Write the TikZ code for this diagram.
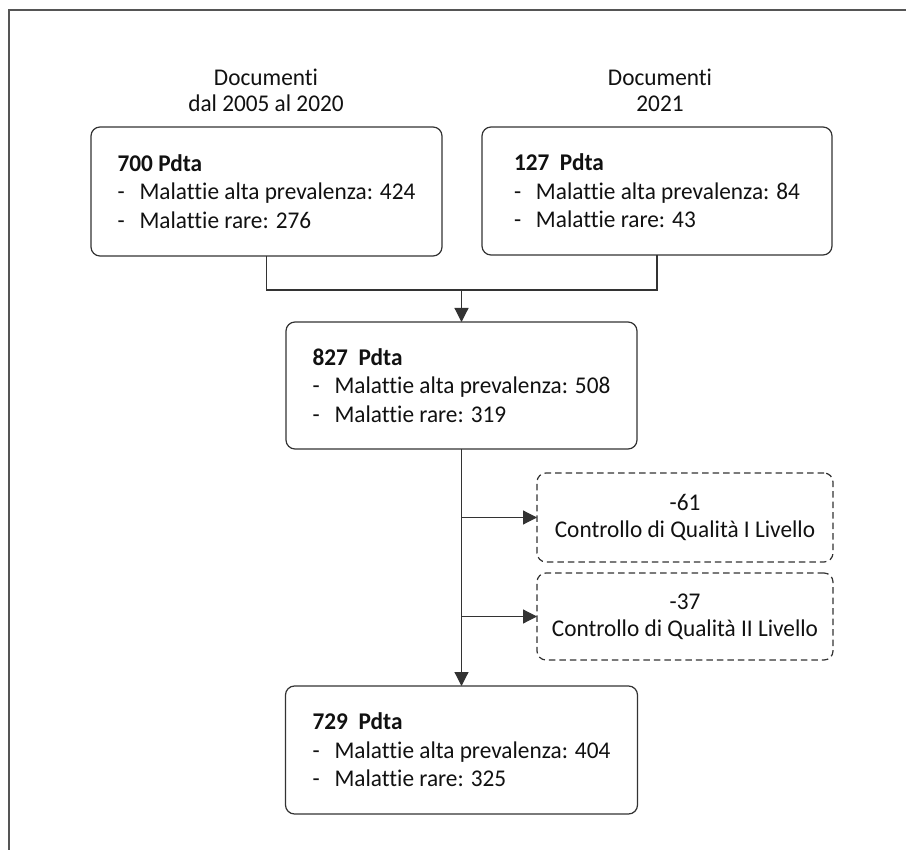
\documentclass[tikz,border=0pt]{standalone}
\usepackage{fontspec}
\setmainfont{Carlito}[Ligatures=NoCommon, FakeStretch=0.97]
\usetikzlibrary{arrows.meta}
\definecolor{ln}{HTML}{333333}
\definecolor{tx}{HTML}{111111}
\definecolor{fr}{HTML}{555555}
\newcommand{\itm}[1]{\makebox[22pt][l]{-}#1}
\begin{document}
\begin{tikzpicture}[x=1pt,y=-1pt,
  every node/.style={text=tx, inner sep=0pt, outer sep=0pt},
  solidbox/.style={draw=ln, line width=1.2pt, rounded corners=9pt,
    align=left, font=\fontsize{24}{28.5}\selectfont},
  dashbox/.style={draw=ln, line width=1.2pt, rounded corners=9pt,
    dash pattern=on 6.5pt off 4pt, align=center,
    font=\fontsize{24}{27}\selectfont, minimum width=296pt},
  toplabel/.style={align=center, font=\fontsize{24}{26}\selectfont},
  conn/.style={draw=ln, line width=1.2pt},
  arr/.style={conn, -{Triangle[length=14pt,width=14pt]}}
]
\useasboundingbox (0,0) rectangle (906,850);
\draw[fr, line width=1.2pt] (906,10) -- coordinate (fc) (9,10) -- (9,850);

\node[toplabel] (L1) at (266,90) {Documenti\\dal 2005 al 2020};
\node[toplabel] (L2) at (660,90) {Documenti\\2021};

\node[solidbox, minimum width=351pt, minimum height=129pt] (A) at (266.5,191.5)
  {\textbf{700 Pdta}\\\itm{Malattie alta prevalenza: 424}\\\itm{Malattie rare: 276}};
\node[solidbox, minimum width=350pt, minimum height=128pt] (B) at (657,191)
  {\textbf{127\ \ Pdta}\\\itm{Malattie alta prevalenza: 84}\\\itm{Malattie rare: 43}};
\node[solidbox, minimum width=351pt, minimum height=127pt] (C) at (461.5,385.5)
  {\textbf{827\ \ Pdta}\\\itm{Malattie alta prevalenza: 508}\\\itm{Malattie rare: 319}};
\node[solidbox, minimum width=352pt, minimum height=128pt] (D) at (461.5,750)
  {\textbf{729\ \ Pdta}\\\itm{Malattie alta prevalenza: 404}\\\itm{Malattie rare: 325}};

\node[dashbox, minimum height=89pt] (Q1) at (685,517.5)
  {-61\\Controllo di Qualità I Livello};
\node[dashbox, minimum height=87pt] (Q2) at (685,616.5)
  {-37\\Controllo di Qualità II Livello};

\coordinate (J) at (461.5,290);
\draw[conn] (A.south) |- (J) -| (B.south);
\draw[arr] (J) -- (C.north);
\draw[arr] (C.south) -- (D.north);
\draw[arr] (C.south |- Q1.west) -- (Q1.west);
\draw[arr] (C.south |- Q2.west) -- (Q2.west);
\end{tikzpicture}
\end{document}
